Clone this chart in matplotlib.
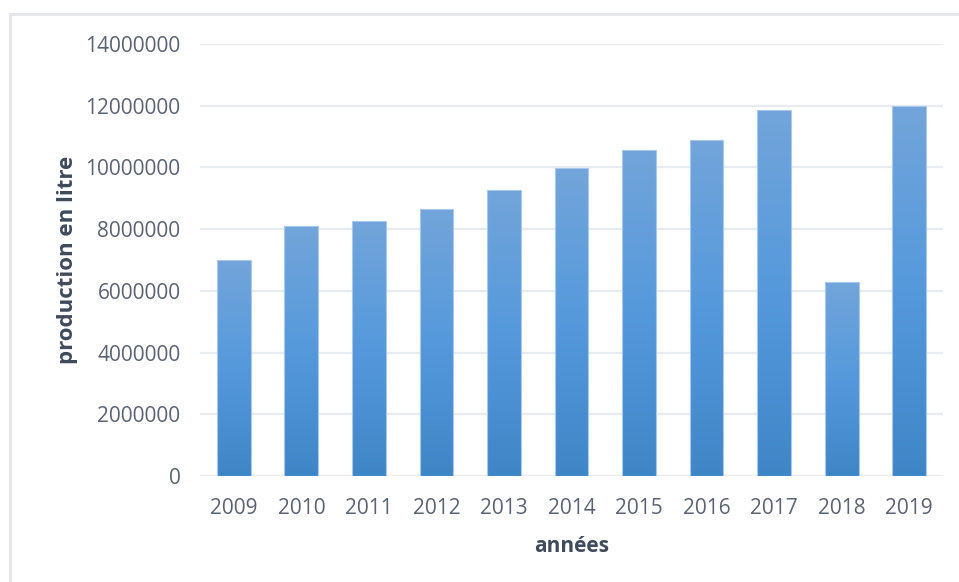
import numpy as np
import matplotlib.pyplot as plt
from matplotlib.colors import LinearSegmentedColormap
from matplotlib.lines import Line2D

# production per year (litres)
years = ["2009", "2010", "2011", "2012", "2013", "2014",
         "2015", "2016", "2017", "2018", "2019"]
production = [7000000, 8100000, 8280000, 8650000, 9270000, 9980000,
              10560000, 10890000, 11860000, 6290000, 11990000]
y_ticks = [0, 2000000, 4000000, 6000000, 8000000, 10000000, 12000000, 14000000]

plt.rcParams['font.family'] = ['Open Sans', 'DejaVu Sans']
tick_color = "#5a6373"
label_color = "#3f4a5a"

fig = plt.figure(figsize=(9.59, 5.82), dpi=100)
W, H = 959, 582
ax = fig.add_axes([200 / W, 1 - 476 / H, (943 - 200) / W, (476 - 44) / H])

x = np.arange(len(years))
bars = ax.bar(x, production, width=0.5, color="none",
              edgecolor="#a9c8ea", linewidth=0.8, zorder=3)

# vertical gradient inside each bar: light at the top, darker at the bottom
cmap = LinearSegmentedColormap.from_list(
    "bar_grad", ["#3f86c7", "#5599dc", "#72a5da"])
grad = np.linspace(0, 1, 256).reshape(-1, 1)
for b in bars:
    x0, w, h = b.get_x(), b.get_width(), b.get_height()
    im = ax.imshow(grad, cmap=cmap, origin="lower", aspect="auto",
                   extent=[x0, x0 + w, 0, h], zorder=2)
    im.set_clip_path(b)

ax.set_xlim(-0.5, len(years) - 0.5)
ax.set_ylim(0, 14000000)
ax.set_yticks(y_ticks)
ax.set_yticklabels([str(v) for v in y_ticks])
ax.set_xticks(x)
ax.set_xticklabels(years)

ax.grid(axis="y", color="#e8ebf0", linewidth=1.6, zorder=0)
ax.set_axisbelow(True)
for s in ax.spines.values():
    s.set_visible(False)
ax.tick_params(length=0, colors=tick_color, labelsize=15)
ax.tick_params(axis="y", pad=14)
ax.tick_params(axis="x", pad=16)

ax.set_xlabel("années", fontsize=15, fontweight="bold", color=label_color, labelpad=12)
ax.set_ylabel("production en litre", fontsize=16, fontweight="bold", color=label_color, labelpad=5)

# light frame of the chart area (top and left edges visible)
fig.add_artist(Line2D([10 / W, 1], [1 - 14 / H, 1 - 14 / H], color="#e3e6ec", linewidth=2))
fig.add_artist(Line2D([10 / W, 10 / W], [0, 1 - 14 / H], color="#e3e6ec", linewidth=2))

fig.savefig("out.png", dpi=100)
